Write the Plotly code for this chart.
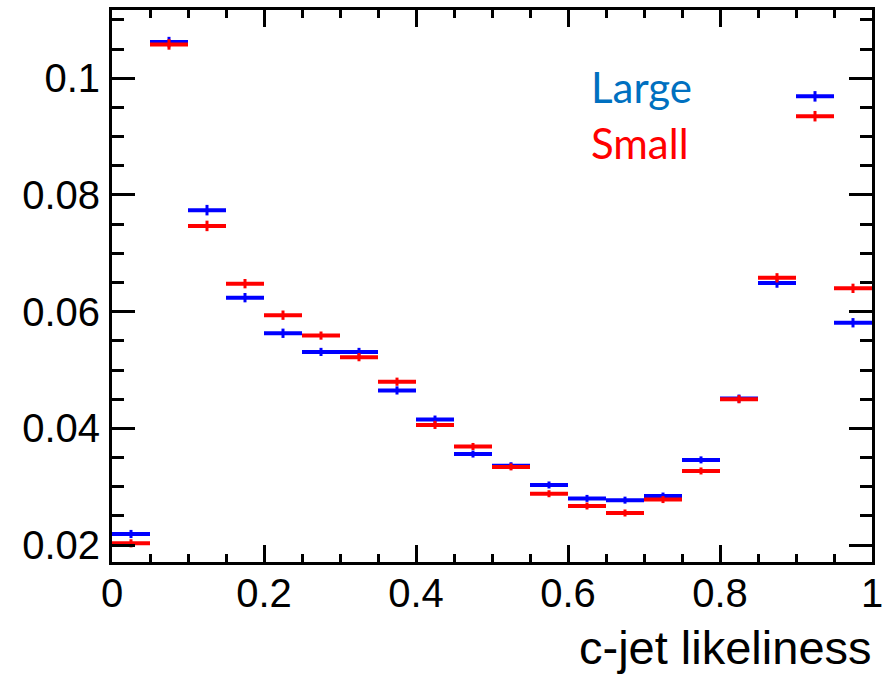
import plotly.graph_objects as go

bin_centers = [0.025, 0.075, 0.125, 0.175, 0.225, 0.275, 0.325, 0.375, 0.425, 0.475,
               0.525, 0.575, 0.625, 0.675, 0.725, 0.775, 0.825, 0.875, 0.925, 0.975]
bin_halfwidth = [0.025] * 20

large = [0.0219, 0.1062, 0.0774, 0.0624, 0.0563, 0.0531, 0.0531, 0.0465, 0.0415, 0.0356,
         0.0336, 0.0303, 0.0280, 0.0277, 0.0284, 0.0346, 0.0451, 0.0649, 0.0969, 0.0581]
large_err = [0.0007, 0.0009, 0.0009, 0.0008, 0.0008, 0.0007, 0.0007, 0.0007, 0.0007, 0.0006,
             0.0006, 0.0006, 0.0006, 0.0006, 0.0006, 0.0006, 0.0007, 0.0008, 0.0009, 0.0008]

small = [0.0203, 0.1058, 0.0747, 0.0648, 0.0594, 0.0559, 0.0522, 0.0480, 0.0406, 0.0369,
         0.0334, 0.0288, 0.0267, 0.0255, 0.0278, 0.0327, 0.0450, 0.0658, 0.0935, 0.0640]
small_err = [0.0007, 0.0009, 0.0009, 0.0008, 0.0008, 0.0007, 0.0007, 0.0007, 0.0007, 0.0006,
             0.0006, 0.0006, 0.0006, 0.0006, 0.0006, 0.0006, 0.0007, 0.0008, 0.0009, 0.0008]

series = [("Large", large, large_err, "#0000FF"), ("Small", small, small_err, "#FF0000")]

fig = go.Figure()
for name, vals, errs, col in series:
    fig.add_trace(go.Scatter(
        x=bin_centers, y=vals, mode="markers", name=name,
        marker=dict(size=2, color=col),
        error_x=dict(type="data", array=bin_halfwidth, color=col, thickness=4, width=0),
        error_y=dict(type="data", array=errs, color=col, thickness=3, width=0),
        showlegend=False,
    ))

axis_font = dict(family="Liberation Sans, Arial, sans-serif", size=40, color="black")

fig.update_xaxes(
    range=[0, 1], tickmode="linear", tick0=0, dtick=0.2,
    ticks="inside", ticklen=17, tickwidth=3, tickcolor="black",
    minor=dict(dtick=0.05, ticks="inside", ticklen=8, tickwidth=3, tickcolor="black"),
    showline=True, linewidth=3, linecolor="black", mirror="allticks",
    showgrid=False, zeroline=False, tickfont=axis_font, ticklabelstandoff=-6,
    automargin=False,
)
fig.update_yaxes(
    range=[0.0171, 0.1117], tickmode="linear", tick0=0, dtick=0.02,
    ticks="inside", ticklen=23, tickwidth=3, tickcolor="black",
    minor=dict(dtick=0.005, ticks="inside", ticklen=12, tickwidth=3, tickcolor="black"),
    showline=True, linewidth=3, linecolor="black", mirror="allticks",
    showgrid=False, zeroline=False, tickfont=axis_font, ticklabelstandoff=1,
    automargin=False,
)

fig.add_annotation(text="c-jet likeliness", xref="paper", yref="paper", x=1.002, y=0,
                   xanchor="right", yanchor="top", yshift=-57, showarrow=False,
                   font=dict(family="Liberation Sans, Arial, sans-serif", size=47, color="black"))
fig.add_annotation(text="Large", xref="paper", yref="paper", x=0.627, y=0.91,
                   xanchor="left", yanchor="top", showarrow=False,
                   font=dict(family="Lato, sans-serif", size=42, color="#0070C0"))
fig.add_annotation(text="Small", xref="paper", yref="paper", x=0.627, y=0.808,
                   xanchor="left", yanchor="top", showarrow=False,
                   font=dict(family="Lato, sans-serif", size=42, color="#FF0000"))

fig.update_layout(
    width=891, height=675,
    margin=dict(l=112, r=19, t=10, b=113),
    paper_bgcolor="white", plot_bgcolor="white",
)

fig.write_html("out.html")
